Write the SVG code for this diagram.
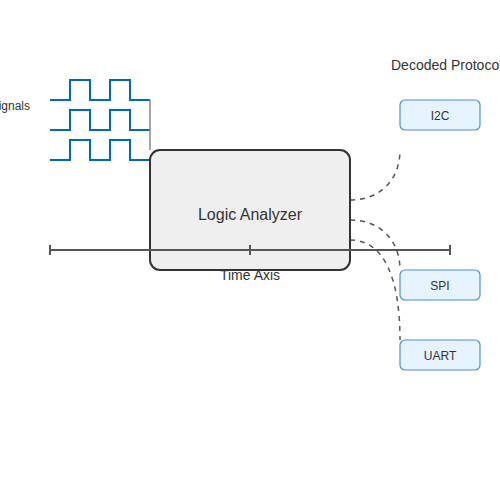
<svg xmlns="http://www.w3.org/2000/svg" width="500" height="500" viewBox="0 0 500 500">
<style>
text{font-family:"Liberation Sans",Arial,sans-serif;fill:#333}
.wave{fill:none;stroke:#0066cc;stroke-width:2}
.proto rect{fill:#e6f4ff;stroke:#4a90d9;stroke-width:1.2}
.proto text{font-size:12px;text-anchor:middle}
.dash{fill:none;stroke:#555;stroke-width:1.5;stroke-dasharray:5,5}
.axis{stroke:#555;stroke-width:2;fill:none}
</style>
<rect width="500" height="500" fill="#fff"/>
<text x="30" y="110" font-size="12" text-anchor="end">Input Signals</text>
<text x="391" y="70" font-size="14">Decoded Protocols</text>
<g id="signals">
<path class="wave" d="M50,100H70V80H90V100H110V80H130V100H150"/>
<path class="wave" d="M50,130H70V110H90V130H110V110H130V130H150"/>
<path class="wave" d="M50,160H70V140H90V160H110V140H130V160H150"/>
</g>
<g id="connectors">
<line x1="150" y1="100" x2="150" y2="150" stroke="#888" stroke-width="1.5"/>
<path class="dash" d="M350,200C380,200 400,180 400,150"/>
<path class="dash" d="M350,220C380,220 400,240 400,270"/>
<path class="dash" d="M350,240C385,240 400,280 400,340"/>
</g>
<text x="250" y="280" font-size="14" text-anchor="middle">Time Axis</text>
<g id="analyzer">
<rect x="150" y="150" width="200" height="120" rx="10" fill="#efefef" stroke="#333" stroke-width="2"/>
<text x="250" y="220" font-size="16" text-anchor="middle">Logic Analyzer</text>
</g>
<g id="time-axis">
<path class="axis" d="M50,250H450M50,245V255M250,245V255M450,245V255"/>
</g>
<g id="i2c" class="proto"><rect x="400" y="100" width="80" height="30" rx="5"/><text x="440" y="120">I2C</text></g>
<g id="spi" class="proto"><rect x="400" y="270" width="80" height="30" rx="5"/><text x="440" y="290">SPI</text></g>
<g id="uart" class="proto"><rect x="400" y="340" width="80" height="30" rx="5"/><text x="440" y="360">UART</text></g>
</svg>
